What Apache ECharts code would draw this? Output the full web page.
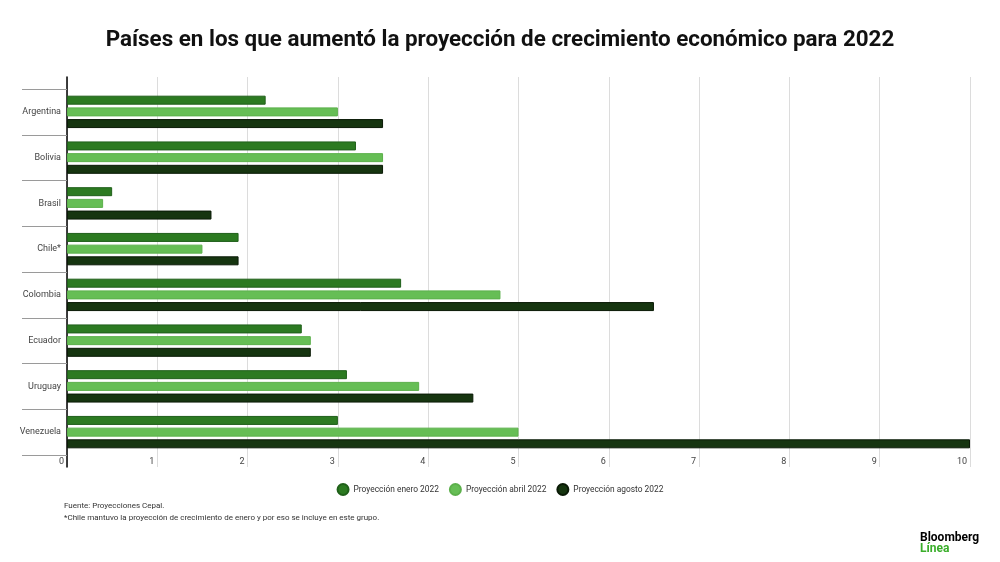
<!DOCTYPE html>
<html>
<head>
<meta charset="utf-8">
<script src="https://cdn.jsdelivr.net/npm/echarts@6/dist/echarts.min.js"></script>
<style>
html,body{margin:0;padding:0;background:#fff;}
#chart{width:1000px;height:562px;}
</style>
</head>
<body>
<div id="chart"></div>
<script>
const categories = ['Argentina','Bolivia','Brasil','Chile*','Colombia','Ecuador','Uruguay','Venezuela'];
const seriesNames = ['Proyección enero 2022','Proyección abril 2022','Proyección agosto 2022'];
const enero = [2.2, 3.2, 0.5, 1.9, 3.7, 2.6, 3.1, 3.0];
const abril = [3.0, 3.5, 0.4, 1.5, 4.8, 2.7, 3.9, 5.0];
const agosto = [3.5, 3.5, 1.6, 1.9, 6.5, 2.7, 4.5, 10.0];
const xTicks = {min: 0, max: 10, interval: 1};

const colors = ['#2c7a21', '#66be55', '#163510'];
const borders = ['#20601a', '#5cb04b', '#0a1a06'];

const chart = echarts.init(document.getElementById('chart'));
const mk = (name, data, i) => ({
  name, type: 'bar', data, xAxisIndex: 1, yAxisIndex: 1,
  barWidth: 9, barGap: '30%',
  itemStyle: {color: colors[i], borderColor: borders[i], borderWidth: 1},
  emphasis: {disabled: true}
});
chart.setOption({
  animation: false,
  color: colors,
  title: {
    text: 'Países en los que aumentó la proyección de crecimiento económico para 2022',
    left: 'center', top: 24,
    textStyle: {fontFamily: 'Roboto', fontWeight: 'bold', fontSize: 22.4, color: '#111'}
  },
  legend: {
    data: seriesNames, left: 'center', top: 478,
    icon: 'circle', itemWidth: 11, itemHeight: 11, itemGap: 10,
    textStyle: {fontFamily: 'Roboto', fontSize: 8.4, color: '#333'}
  },
  grid: [
    {left: 67, right: 30, top: 77, bottom: 95},
    {left: 67, right: 30, top: 89, bottom: 107}
  ],
  xAxis: [
    {type: 'value', gridIndex: 0, min: xTicks.min, max: xTicks.max, interval: xTicks.interval,
     axisLine: {show: false}, axisTick: {show: false}, axisLabel: {show: false},
     splitLine: {show: true, lineStyle: {color: '#dcdcdc', width: 1}}},
    {type: 'value', gridIndex: 1, min: xTicks.min, max: xTicks.max, interval: xTicks.interval,
     axisLine: {show: false}, axisTick: {show: false}, splitLine: {show: false},
     axisLabel: {show: true, margin: 2, align: 'right', padding: [0, 3, 0, 0],
       fontFamily: 'Roboto', fontSize: 9, color: '#444'}}
  ],
  yAxis: [
    {type: 'value', gridIndex: 0, axisLine: {show: true, onZero: false, lineStyle: {color: '#000', width: 1.5}},
     axisTick: {show: false}, axisLabel: {show: false}, splitLine: {show: false}},
    {type: 'category', gridIndex: 1, data: categories, inverse: true,
     axisLine: {show: false},
     axisTick: {show: true, length: 45, lineStyle: {color: '#9a9a9a', width: 1}},
     axisLabel: {margin: 6, fontFamily: 'Roboto', fontSize: 9, color: '#444'},
     splitLine: {show: false}}
  ],
  series: [mk(seriesNames[0], enero, 0), mk(seriesNames[1], abril, 1), mk(seriesNames[2], agosto, 2)],
  graphic: [
    {type: 'text', left: 64, top: 502, style: {text: 'Fuente: Proyecciones Cepal.', fontFamily: 'Roboto', fontSize: 8, fill: '#333'}},
    {type: 'text', left: 64, top: 514, style: {text: '*Chile mantuvo la proyección de crecimiento de enero y por eso se incluye en este grupo.', fontFamily: 'Roboto', fontSize: 8, fill: '#333'}},
    {type: 'text', left: 920, top: 532, style: {text: 'Bloomberg', fontFamily: 'Roboto', fontWeight: 'bold', fontSize: 12, fill: '#000'}},
    {type: 'text', left: 920, top: 543, style: {text: 'Línea', fontFamily: 'Roboto', fontWeight: 'bold', fontSize: 12, fill: '#3aae2a'}}
  ]
});
</script>
</body>
</html>
